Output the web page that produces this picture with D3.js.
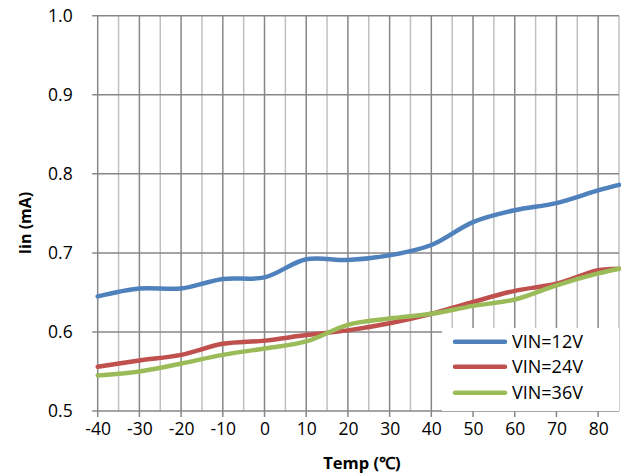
<!DOCTYPE html>
<html><head><meta charset="utf-8">
<script src="https://cdn.jsdelivr.net/npm/d3@7"></script>
<style>body{margin:0;background:#fff}svg{display:block}</style>
</head><body>
<svg id="c" width="621" height="476"></svg>
<script>
const temps = [-40,-30,-20,-10,0,10,20,30,40,50,60,70,80,85];
const vin12 = [0.645,0.655,0.655,0.667,0.669,0.692,0.691,0.697,0.710,0.739,0.754,0.763,0.779,0.786];
const vin24 = [0.556,0.564,0.571,0.585,0.589,0.596,0.602,0.611,0.623,0.638,0.652,0.661,0.678,0.680];
const vin36 = [0.545,0.550,0.560,0.571,0.579,0.588,0.609,0.617,0.623,0.633,0.641,0.659,0.674,0.680];
const seriesNames = ["VIN=12V","VIN=24V","VIN=36V"];
const colors = ["#4F81BD","#C0504D","#9BBB59"];
const xTicks = [-40,-30,-20,-10,0,10,20,30,40,50,60,70,80];
const xMinor = [-35,-25,-15,-5,5,15,25,35,45,55,65,75,85];
const yTicks = [0.5,0.6,0.7,0.8,0.9,1.0];

const font = "'Open Sans', sans-serif";
const svg = d3.select("#c");
const L=97.7, R=619, T=15.7, B=411;
const x = d3.scaleLinear().domain([-40,85]).range([L,R]);
const y = d3.scaleLinear().domain([0.5,1.0]).range([B,T]);

svg.append("g").selectAll("line").data(xMinor).join("line")
  .attr("x1",d=>x(d)).attr("x2",d=>x(d)).attr("y1",T).attr("y2",B)
  .attr("stroke","#c0c0c0").attr("stroke-width",1.5);
svg.append("g").selectAll("line").data(xTicks).join("line")
  .attr("x1",d=>x(d)).attr("x2",d=>x(d)).attr("y1",T).attr("y2",B+6)
  .attr("stroke","#878787").attr("stroke-width",1.5);
svg.append("g").selectAll("line").data(yTicks).join("line")
  .attr("x1",L-5.5).attr("x2",R).attr("y1",d=>y(d)).attr("y2",d=>y(d))
  .attr("stroke","#878787").attr("stroke-width",1.5);

const yAxis = svg.append("g").attr("transform",`translate(${L},0)`)
  .call(d3.axisLeft(y).tickValues(yTicks).tickFormat(d=>d.toFixed(1)).tickSize(0).tickPadding(25));
const xAxis = svg.append("g").attr("transform",`translate(0,${B})`)
  .call(d3.axisBottom(x).tickValues(xTicks).tickFormat(d=>String(d)).tickSize(0).tickPadding(12));
[yAxis,xAxis].forEach(a=>{a.select(".domain").remove();
  a.selectAll("text").attr("font-family",font).attr("font-size",17.5).attr("fill","#000");});
xAxis.selectAll("text").attr("dy","0.71em");

const data = [vin12,vin24,vin36];
const line = d3.line().x((d,i)=>x(temps[i])).y(d=>y(d)).curve(d3.curveCatmullRom.alpha(0.5));
svg.append("g").selectAll("path").data(data).join("path")
  .attr("d",line).attr("fill","none").attr("stroke",(d,i)=>colors[i])
  .attr("stroke-width",4.5).attr("stroke-linejoin","round").attr("stroke-linecap","round");

const lg = svg.append("g");
lg.append("rect").attr("x",442).attr("y",328).attr("width",R-442).attr("height",B-328).attr("fill","#fff");
const rows = [341.7,366.7,392.7];
seriesNames.forEach((n,i)=>{
  lg.append("line").attr("x1",455).attr("x2",505).attr("y1",rows[i]).attr("y2",rows[i])
    .attr("stroke",colors[i]).attr("stroke-width",4.5).attr("stroke-linecap","round");
  lg.append("text").attr("x",512).attr("y",rows[i]).attr("dy","0.36em")
    .attr("font-family",font).attr("font-size",18).attr("fill","#000").text(n);
});

svg.append("text").attr("x",362).attr("y",469).attr("text-anchor","middle")
  .attr("font-family",font).attr("font-size",16.5).attr("font-weight","bold").text("Temp (℃)");
svg.append("text").attr("transform",`translate(31,${223}) rotate(-90)`).attr("text-anchor","middle")
  .attr("font-family",font).attr("font-size",16).attr("font-weight","bold").text("Iin (mA)");
</script>
</body></html>
